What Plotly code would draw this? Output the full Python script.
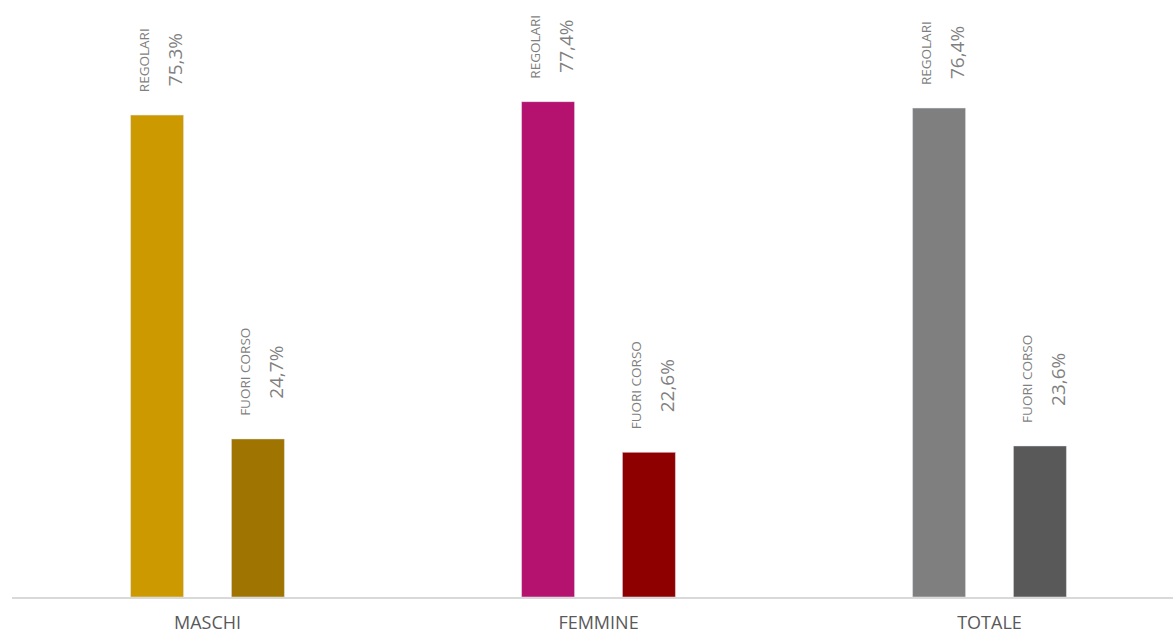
import plotly.graph_objects as go

categories = ["MASCHI", "FEMMINE", "TOTALE"]
regolari = [75.3, 77.4, 76.4]
fuori_corso = [24.7, 22.6, 23.6]
regolari_labels = ["75,3%", "77,4%", "76,4%"]
fuori_labels = ["24,7%", "22,6%", "23,6%"]
regolari_colors = ["#CC9900", "#B5126F", "#7F7F7F"]
fuori_colors = ["#A07400", "#8E0000", "#595959"]

FONT = "Open Sans"
BW = 0.1356
OFF = 0.129

fig = go.Figure()
fig.add_trace(go.Bar(x=categories, y=regolari, marker_color=regolari_colors,
                     width=BW, offset=-OFF - BW / 2, name="REGOLARI", showlegend=False))
fig.add_trace(go.Bar(x=categories, y=fuori_corso, marker_color=fuori_colors,
                     width=BW, offset=OFF - BW / 2, name="FUORI CORSO", showlegend=False))

annotations = []
for i, cat in enumerate(categories):
    for val, lab, name, sign, ys in [(regolari[i], regolari_labels[i], "REGOLARI", -1, 55),
                                     (fuori_corso[i], fuori_labels[i], "FUORI CORSO", 1, 67)]:
        xc = i + sign * OFF
        annotations.append(dict(x=xc, y=val, xref="x", yref="y", text=name, textangle=-90,
                                showarrow=False, xanchor="center", yanchor="middle",
                                xshift=-13, yshift=ys,
                                font=dict(family=FONT, size=13.5, color="#7F7F7F")))
        annotations.append(dict(x=xc, y=val, xref="x", yref="y", text=lab, textangle=-90,
                                showarrow=False, xanchor="center", yanchor="middle",
                                xshift=18, yshift=ys,
                                font=dict(family=FONT, size=19, color="#7F7F7F")))

fig.update_layout(
    width=1173, height=636,
    margin=dict(l=12, r=0, t=0, b=39),
    plot_bgcolor="white", paper_bgcolor="white",
    barmode="overlay",
    annotations=annotations,
    xaxis=dict(range=[-0.5, -0.5 + 1161 / 391], showline=True, linecolor="#D9D9D9",
               linewidth=2, showgrid=False, ticks="", ticklabelstandoff=8, automargin=False,
               tickfont=dict(family=FONT, size=18, color="#595959")),
    yaxis=dict(range=[0, 597 / 6.4], visible=False, showgrid=False, zeroline=False,
               automargin=False),
)

fig.write_html("out.html", config={"displayModeBar": False},
               post_script="document.body.style.margin='0';")
